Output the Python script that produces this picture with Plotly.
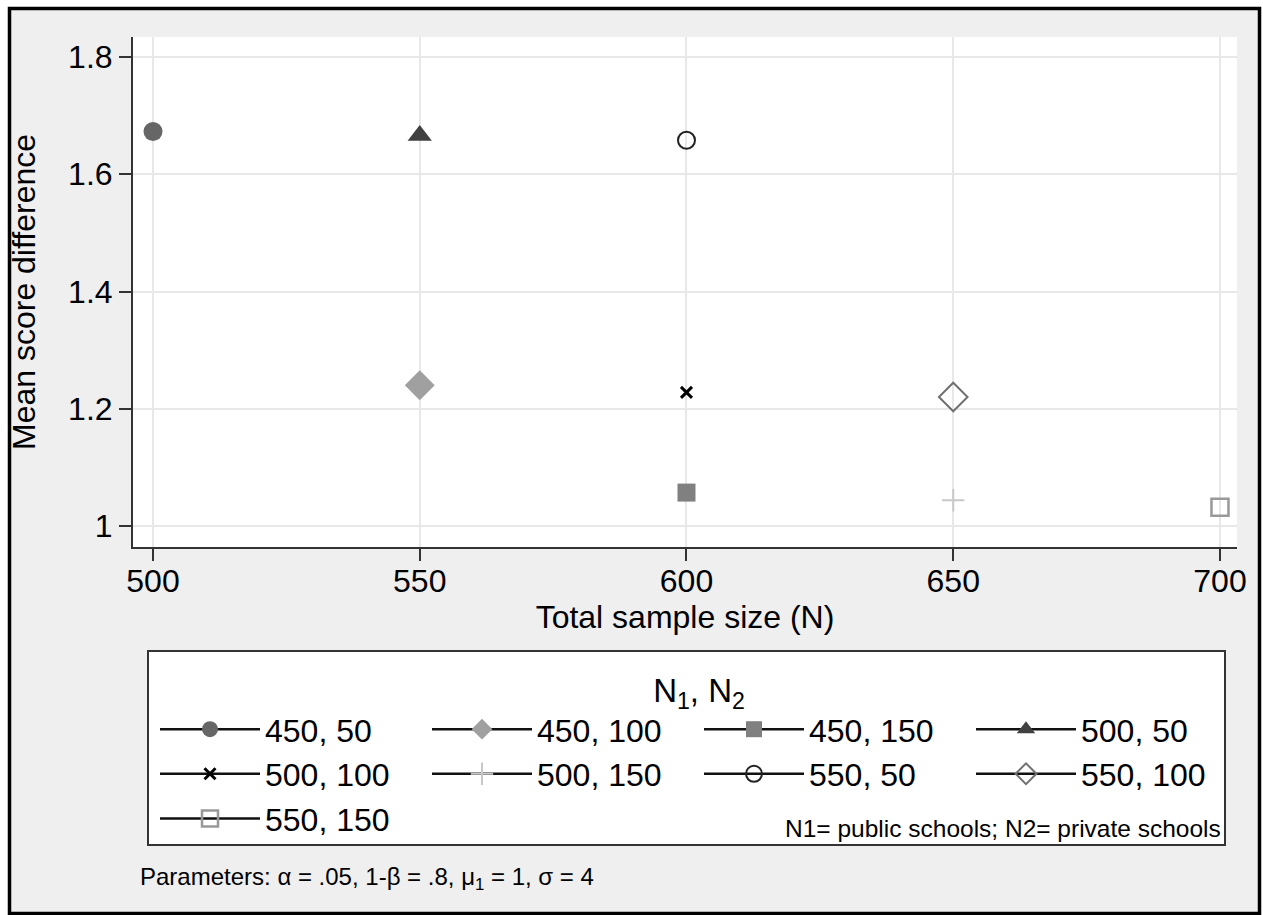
import plotly.graph_objects as go

# ---------------- data ----------------
series_names = ["450, 50", "450, 100", "450, 150", "500, 50", "500, 100",
                "500, 150", "550, 50", "550, 100", "550, 150"]
total_n = [500, 550, 600, 550, 600, 650, 600, 650, 700]
mean_diff = [1.673, 1.240, 1.057, 1.666, 1.228, 1.044, 1.658, 1.220, 1.032]
x_ticks = [500, 550, 600, 650, 700]
y_ticks = [1.0, 1.2, 1.4, 1.6, 1.8]
y_tick_labels = ["1", "1.2", "1.4", "1.6", "1.8"]

# ---------------- styles ----------------
marker_styles = [
    dict(symbol="circle", size=19, color="#666666", line=dict(width=0)),
    dict(symbol="diamond", size=23, color="#a0a0a0", line=dict(width=0)),
    dict(symbol="square", size=18, color="#808080", line=dict(width=0)),
    dict(symbol="triangle-up", size=21, color="#404040", line=dict(width=0)),
    dict(symbol="x-thin", size=11, color="#000000", line=dict(color="#000000", width=3)),
    dict(symbol="cross-thin", size=16, color="#c8c8c8", line=dict(color="#c8c8c8", width=2)),
    dict(symbol="circle-open", size=17, color="#222222", line=dict(color="#222222", width=2)),
    dict(symbol="diamond-open", size=22, color="#707070", line=dict(color="#707070", width=2)),
    dict(symbol="square-open", size=17, color="#999999", line=dict(color="#999999", width=2.5)),
]

FONT = "Liberation Sans, Arial, Helvetica, sans-serif"
W, H = 1263, 915
ML, MR, MT, MB = 133, 26, 37, 368
PW, PH = W - ML - MR, H - MT - MB


def px2x(px):
    return (px - ML) / PW


def py2y(py):
    return (H - MB - py) / PH


fig = go.Figure()
for name, xv, yv, ms in zip(series_names, total_n, mean_diff, marker_styles):
    fig.add_trace(go.Scatter(
        x=[xv], y=[yv], name=name, mode="lines+markers",
        line=dict(color="#111111", width=2.5),
        marker=ms,
    ))

shapes = [
    # grey page background with black frame
    dict(type="rect", xref="paper", yref="paper", layer="below",
         x0=px2x(9.5), x1=px2x(1259.5), y0=py2y(913.5), y1=py2y(8.5),
         fillcolor="#efefef", line=dict(color="black", width=3.5)),
    # white plot region
    dict(type="rect", xref="paper", yref="paper", layer="below",
         x0=0, x1=1, y0=0, y1=1, fillcolor="white", line=dict(width=0)),
    # legend box
    dict(type="rect", xref="paper", yref="paper", layer="below",
         x0=px2x(148), x1=px2x(1225), y0=py2y(845), y1=py2y(651),
         fillcolor="white", line=dict(color="#333333", width=2)),
]

annotations = [
    dict(text="N1= public schools; N2= private schools", xref="paper", yref="paper",
         x=px2x(1223), y=py2y(828), xanchor="right", yanchor="middle",
         showarrow=False, font=dict(family=FONT, size=24.5, color="black")),
    dict(text="Parameters: \u03b1 = .05, 1-\u03b2 = .8, \u03bc<sub>1</sub> = 1, \u03c3 = 4",
         xref="paper", yref="paper",
         x=px2x(138), y=py2y(878), xanchor="left", yanchor="middle",
         showarrow=False, font=dict(family=FONT, size=24, color="black")),
]

fig.update_layout(
    width=W, height=H, autosize=False,
    margin=dict(l=ML, r=MR, t=MT, b=MB, pad=0),
    paper_bgcolor="white", plot_bgcolor="white",
    font=dict(family=FONT, color="black", size=32),
    shapes=shapes, annotations=annotations,
    showlegend=True,
    legend=dict(
        orientation="h", x=px2x(155), y=py2y(659), xanchor="left", yanchor="top",
        xref="paper", yref="paper",
        itemwidth=100, entrywidth=157, entrywidthmode="pixels",
        bgcolor="rgba(0,0,0,0)", borderwidth=0,
        font=dict(family=FONT, size=32, color="black"),
        title=dict(text="N<sub>1</sub>, N<sub>2</sub>", side="top center",
                   font=dict(family=FONT, size=33, color="black")),
        traceorder="normal",
    ),
    xaxis=dict(
        range=[496.25, 703.19], tickvals=x_ticks, ticktext=[str(v) for v in x_ticks],
        showgrid=True, gridcolor="#e8e8e8", gridwidth=2,
        showline=True, linecolor="#333333", linewidth=2, mirror=False,
        ticks="outside", ticklen=12, tickwidth=2, tickcolor="#333333",
        tickfont=dict(family=FONT, size=32, color="black"),
        ticklabelstandoff=-7,
        zeroline=False,
        title=dict(text="Total sample size (N)", standoff=4,
                   font=dict(family=FONT, size=32, color="black")),
    ),
    yaxis=dict(
        range=[0.9642, 1.8341], tickvals=y_ticks, ticktext=y_tick_labels,
        showgrid=True, gridcolor="#e8e8e8", gridwidth=2,
        showline=True, linecolor="#333333", linewidth=2, mirror=False,
        ticks="outside", ticklen=12, tickwidth=2, tickcolor="#333333",
        tickfont=dict(family=FONT, size=32, color="black"),
        zeroline=False,
        title=dict(text="Mean score difference", standoff=23,
                   font=dict(family=FONT, size=32, color="black")),
    ),
)

fig.write_html("out.html")
